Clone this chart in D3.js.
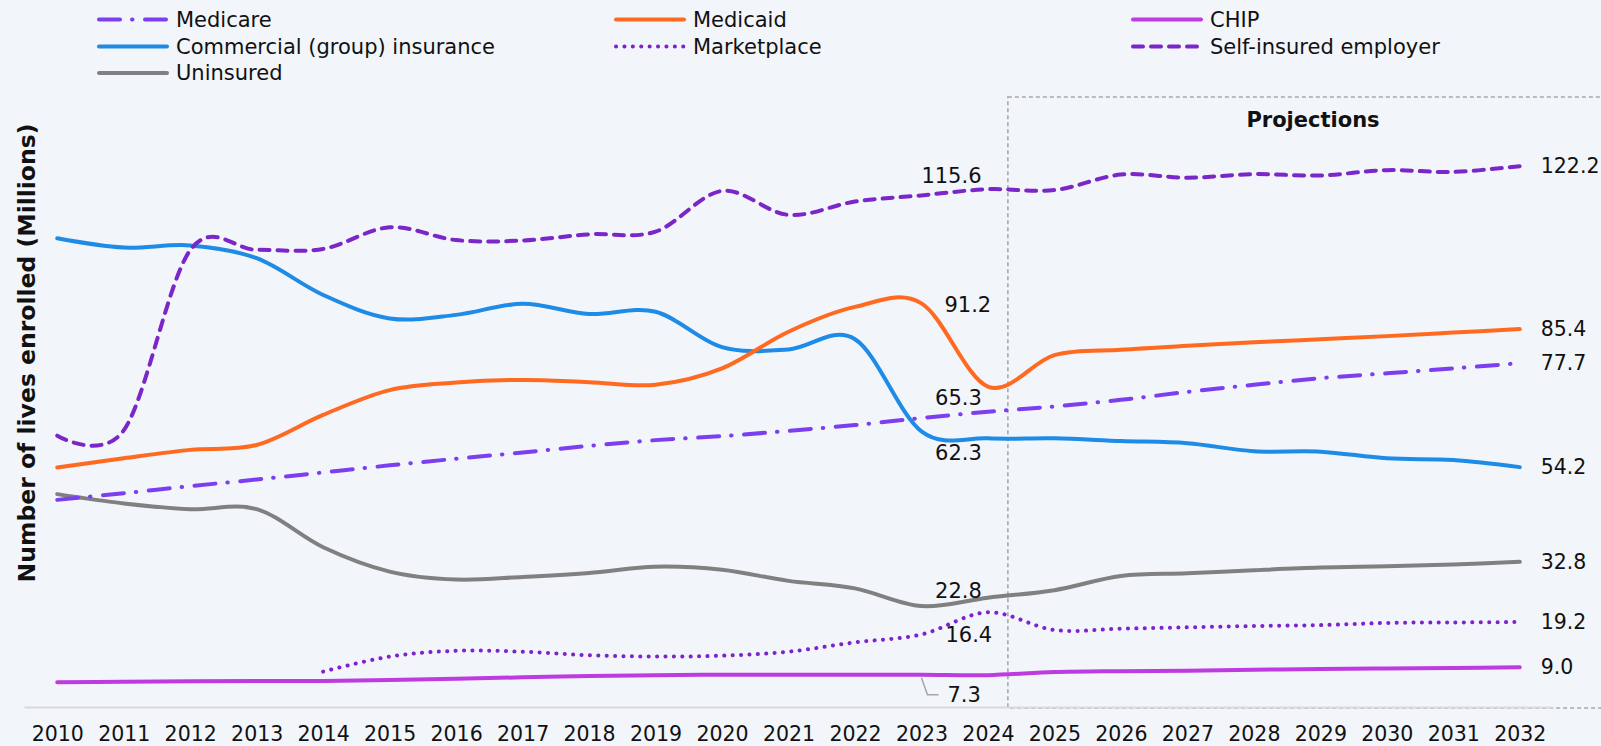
<!DOCTYPE html>
<html>
<head>
<meta charset="utf-8">
<script src="https://cdn.jsdelivr.net/npm/d3@7/dist/d3.min.js"></script>
<style>
  body { margin: 0; background: #f2f5f9; }
  svg { display: block; font-family: "DejaVu Sans", Verdana, sans-serif; }
</style>
</head>
<body>
<svg id="chart" width="1601" height="746"></svg>
<script>
// categories
const years = [2010, 2011, 2012, 2013, 2014, 2015, 2016, 2017, 2018, 2019, 2020,
  2021, 2022, 2023, 2024, 2025, 2026, 2027, 2028, 2029, 2030, 2031, 2032];

// enrolment, millions
const medicare = [46.8, 48.3, 49.9, 51.4, 53.0, 54.6, 56.1, 57.5, 59.0, 60.3, 61.2,
  62.4, 63.7, 65.3, 66.7, 67.9, 69.4, 71.2, 72.8, 74.3, 75.4, 76.5, 77.7];
const medicaid = [54.1, 56.2, 58.1, 59.2, 66.0, 71.6, 73.3, 73.9, 73.4, 72.8, 76.5,
  84.8, 90.4, 91.2, 72.4, 79.5, 80.7, 81.6, 82.4, 83.1, 83.8, 84.6, 85.4];
const chip = [5.6, 5.7, 5.8, 5.9, 5.9, 6.1, 6.4, 6.7, 7.0, 7.2, 7.3,
  7.3, 7.3, 7.3, 7.2, 7.9, 8.1, 8.2, 8.4, 8.6, 8.7, 8.8, 9.0];
const commercial = [105.9, 103.8, 104.3, 101.4, 93.1, 87.8, 88.6, 91.1, 88.8, 89.3, 81.3,
  80.8, 83.1, 62.3, 60.7, 60.7, 60.1, 59.6, 57.8, 57.7, 56.2, 55.8, 54.2];
const marketplace = [null, null, null, null, 8.0, 11.4, 12.7, 12.5, 11.7, 11.4, 11.6,
  12.5, 14.6, 16.4, 21.4, 17.4, 17.7, 18.0, 18.3, 18.5, 19.0, 19.1, 19.2];
const selfInsured = [61.3, 62.5, 103.2, 103.3, 103.5, 108.4, 105.5, 105.4, 106.8, 107.4, 116.6,
  111.2, 114.2, 115.6, 117.0, 116.8, 120.3, 119.6, 120.4, 120.1, 121.3, 120.9, 122.2];
const uninsured = [48.1, 46.0, 44.7, 44.7, 36.1, 30.6, 28.8, 29.4, 30.3, 31.7, 31.0,
  28.5, 26.8, 22.8, 24.7, 26.4, 29.6, 30.2, 30.9, 31.5, 31.8, 32.2, 32.8];

const projectionStart = 2024.3;
const labelYear = 2023;

const series = [
  { key: "medicare", name: "Medicare", values: medicare, color: "#7b3ff0", dash: "21 12 0.5 12.5" },
  { key: "medicaid", name: "Medicaid", values: medicaid, color: "#ff6920", dash: null },
  { key: "chip", name: "CHIP", values: chip, color: "#be3be0", dash: null },
  { key: "commercial", name: "Commercial (group) insurance", values: commercial, color: "#1e8be6", dash: null },
  { key: "marketplace", name: "Marketplace", values: marketplace, color: "#7d22cf", dash: "0.1 8.3" },
  { key: "selfInsured", name: "Self-insured employer", values: selfInsured, color: "#7a26c9", dash: "10 8" },
  { key: "uninsured", name: "Uninsured", values: uninsured, color: "#808080", dash: null }
];

// label placement for the 2023 values (offset from the point, text centre)
const labelOffsets = {
  selfInsured: { dx: 30, dy: -19, anchor: "middle" },
  medicaid: { dx: 23, dy: 2, anchor: "start" },
  medicare: { dx: 37, dy: -20, anchor: "middle" },
  commercial: { dx: 37, dy: 22, anchor: "middle" },
  uninsured: { dx: 37, dy: -15, anchor: "middle" },
  marketplace: { dx: 24, dy: 1, anchor: "start" },
  chip: { dx: 26, dy: 20, anchor: "start", leader: true }
};

const svg = d3.select("#chart");

const x = d3.scaleLinear().domain([2009.5, 2032.5]).range([24, 1553]);
const y = d3.scaleLinear().domain([0, 140]).range([707, 87.4]);

// projections box
svg.append("rect")
  .attr("x", x(projectionStart))
  .attr("y", 97)
  .attr("width", 1640 - x(projectionStart))
  .attr("height", 611)
  .attr("fill", "none")
  .attr("stroke", "#a8a8a8")
  .attr("stroke-width", 1.6)
  .attr("stroke-dasharray", "4 3");

svg.append("text")
  .attr("x", 1313)
  .attr("y", 120)
  .attr("text-anchor", "middle")
  .attr("dominant-baseline", "central")
  .attr("font-weight", "bold")
  .attr("font-size", "21px")
  .attr("fill", "#111")
  .text("Projections");

// x axis
const xAxis = d3.axisBottom(x)
  .tickValues(years)
  .tickFormat(d3.format("d"))
  .tickSize(0)
  .tickSizeOuter(0)
  .tickPadding(19);

const gx = svg.append("g")
  .attr("transform", `translate(0,${y(0)})`)
  .call(xAxis);
gx.select(".domain").attr("stroke", "#d9d9d9").attr("stroke-width", 2);
gx.selectAll("text")
  .attr("font-family", "DejaVu Sans, Verdana, sans-serif")
  .attr("font-size", "20.5px")
  .attr("fill", "#111");

// y title
svg.append("text")
  .attr("transform", "translate(27,353) rotate(-90)")
  .attr("text-anchor", "middle")
  .attr("dominant-baseline", "central")
  .attr("font-weight", "bold")
  .attr("font-size", "23.5px")
  .attr("fill", "#111")
  .text("Number of lives enrolled (Millions)");

// lines
const line = d3.line()
  .defined(d => d != null)
  .x((d, i) => x(years[i]))
  .y(d => y(d))
  .curve(d3.curveCardinal.tension(0));

const drawOrder = ["uninsured", "chip", "marketplace", "commercial", "medicaid", "medicare", "selfInsured"];
drawOrder.forEach(k => {
  const s = series.find(d => d.key === k);
  svg.append("path")
    .datum(s.values)
    .attr("d", line)
    .attr("fill", "none")
    .attr("stroke", s.color)
    .attr("stroke-width", 4)
    .attr("stroke-linecap", "round")
    .attr("stroke-linejoin", "round")
    .attr("stroke-dasharray", s.dash);
});

// data labels for 2023 and 2032
const fmt = d3.format(".1f");
const li = years.indexOf(labelYear);
const last = years.length - 1;
series.forEach(s => {
  const o = labelOffsets[s.key];
  const px = x(labelYear), py = y(s.values[li]);
  if (o.leader) {
    svg.append("path")
      .attr("d", `M${px},${py + 3}L${px + 6},${py + 20}H${px + 17}`)
      .attr("fill", "none")
      .attr("stroke", "#a6a6a6")
      .attr("stroke-width", 1.5);
  }
  svg.append("text")
    .attr("x", px + o.dx)
    .attr("y", py + o.dy)
    .attr("text-anchor", o.anchor)
    .attr("dominant-baseline", "central")
    .attr("font-size", "21px")
    .attr("fill", "#111")
    .text(fmt(s.values[li]));

  svg.append("text")
    .attr("x", x(years[last]) + 21)
    .attr("y", y(s.values[last]))
    .attr("dominant-baseline", "central")
    .attr("font-size", "20.5px")
    .attr("fill", "#111")
    .text(fmt(s.values[last]));
});

// legend: three columns
const legendCols = [99, 616, 1133];
const legendRows = [19.5, 46.5, 73];
const legend = svg.append("g");
series.forEach((s, i) => {
  const lx = legendCols[i % 3], ly = legendRows[Math.floor(i / 3)];
  legend.append("line")
    .attr("x1", lx).attr("x2", lx + 68)
    .attr("y1", ly).attr("y2", ly)
    .attr("stroke", s.color)
    .attr("stroke-width", 4)
    .attr("stroke-linecap", "round")
    .attr("stroke-dasharray", s.dash);
  legend.append("text")
    .attr("x", lx + 77)
    .attr("y", ly)
    .attr("dominant-baseline", "central")
    .attr("font-size", "21px")
    .attr("fill", "#111")
    .text(s.name);
});
</script>
</body>
</html>
